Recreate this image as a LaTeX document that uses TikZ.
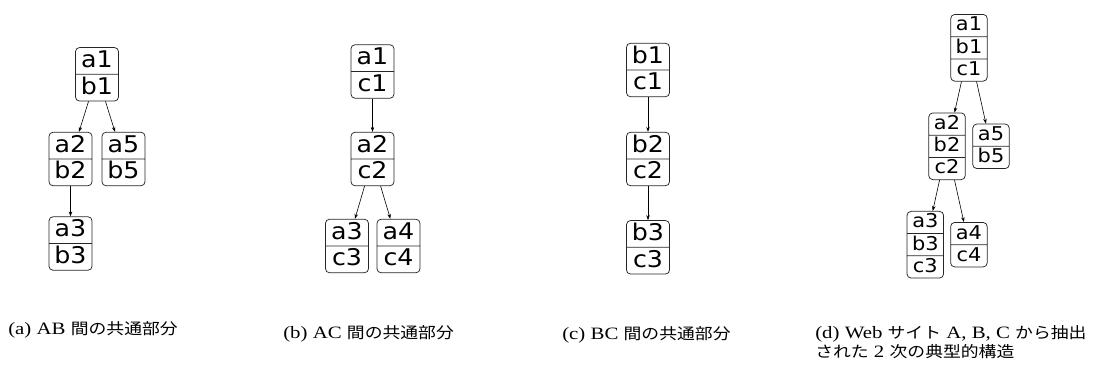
\documentclass[tikz,border=0pt]{standalone}
\usepackage{fontspec}
\usetikzlibrary{shapes.multipart,arrows.meta}
\newfontfamily\boxfont[FakeStretch=1.1]{DejaVu Sans}
\newfontfamily\capfont[FakeStretch=1.2,Scale=1.12]{Liberation Serif}
\newfontfamily\jpfont[FakeStretch=1.15]{Noto Sans CJK JP}
\newcommand\jp[1]{{\jpfont#1}}
\newcommand\rs{\rule[-0.28em]{0pt}{1.13em}}
\newcommand\cellii[2]{#1\rs\nodepart{two}#2\rs}
\newcommand\celliii[3]{#1\rs\nodepart{two}#2\rs\nodepart{three}#3\rs}

\tikzset{
  tbl/.style={rectangle split, rectangle split parts=2, draw=black!85, line width=0.75pt,
    rounded corners=4pt, inner xsep=0pt, inner ysep=0pt, minimum width=43pt,
    font=\boxfont\fontsize{23pt}{27pt}\selectfont},
  tblsmall/.style={tbl, minimum width=36.5pt, font=\boxfont\fontsize{19pt}{23pt}\selectfont},
  captext/.style={inner sep=0pt, anchor=base west, font=\capfont\fontsize{15.5pt}{18.5pt}\selectfont}
}

\begin{document}
\begin{tikzpicture}[x=1pt, y=-1pt, >={Stealth[length=5pt,width=3.5pt]}, line width=0.6pt]
\useasboundingbox (0,0) rectangle (1100,372);

% (a) AB
\node (ab1) at (97,74.3) [tbl] {\cellii{a1}{b1}};
	\node (ab2) at (70.5,159) [tbl] {\cellii{a2}{b2}}		edge[<-](ab1);
	\node (ab5) at (123.5,159) [tbl] {\cellii{a5}{b5}}	edge[<-](ab1);
		\node (ab3) at (70.5,243.5) [tbl] {\cellii{a3}{b3}}	edge[<-](ab2);

% (b) AC
\node (ac1) at (372.5,71.5) [tbl] {\cellii{a1}{c1}};
	\node (ac2) at (372.5,159) [tbl] {\cellii{a2}{c2}}		edge[<-](ac1);
		\node (ac3) at (347,246) [tbl] {\cellii{a3}{c3}}		edge[<-](ac2);
		\node (ac4) at (398.5,246) [tbl] {\cellii{a4}{c4}}	edge[<-](ac2);

% (c) BC
\node (bc1) at (648,70) [tbl] {\cellii{b1}{c1}};
	\node (bc2) at (648,159) [tbl] {\cellii{b2}{c2}}		edge[<-](bc1);
		\node (bc3) at (648,247.3) [tbl] {\cellii{b3}{c3}}	edge[<-](bc2);

% (d) ABC
\node (abc1) at (969,47.8) [tblsmall, rectangle split parts=3] {\celliii{a1}{b1}{c1}};
	\node (abc2) at (947,146.3) [tblsmall, rectangle split parts=3] {\celliii{a2}{b2}{c2}}	edge[<-](abc1);
	\node (abc5) at (991,146.3) [tblsmall] {\cellii{a5}{b5}}		edge[<-](abc1);
		\node (abc3) at (925.3,244.7) [tblsmall, rectangle split parts=3] {\celliii{a3}{b3}{c3}}	edge[<-](abc2);
		\node (abc4) at (968.9,244.7) [tblsmall] {\cellii{a4}{c4}}	edge[<-](abc2);

% captions
\node (capa) at (8,334.5) [captext] {(a) AB \jp{間の共通部分}};
\node (capb) at (283,338) [captext] {(b) AC \jp{間の共通部分}};
\node (capc) at (562,339) [captext] {(c) BC \jp{間の共通部分}};
\node (capd) at (815,338) [captext] {(d) Web \jp{サイト} A, B, C \jp{から抽出}};
\node (capd2) at (815,357) [captext] {\jp{された} 2 \jp{次の典型的構造}};
\end{tikzpicture}
\end{document}
